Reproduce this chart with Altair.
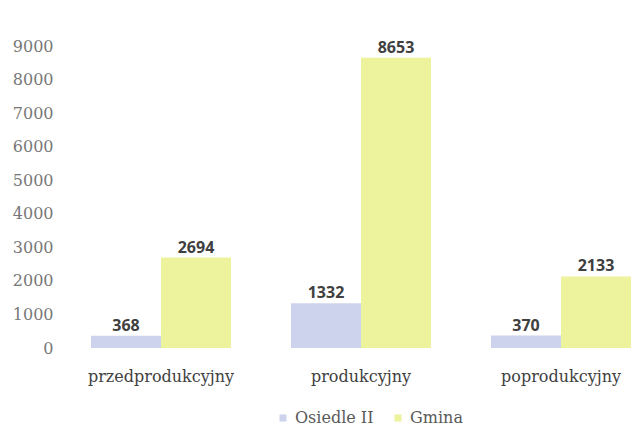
import altair as alt
import pandas as pd

categories = ["przedprodukcyjny", "produkcyjny", "poprodukcyjny"]
series = ["Osiedle II", "Gmina"]
osiedle = [368, 1332, 370]
gmina = [2694, 8653, 2133]
colors = ["#cdd3ec", "#ecf39c"]
y_ticks = [0, 1000, 2000, 3000, 4000, 5000, 6000, 7000, 8000, 9000]

rows = []
for c, o, g in zip(categories, osiedle, gmina):
    rows.append({"kategoria": c, "seria": series[0], "wartosc": o})
    rows.append({"kategoria": c, "seria": series[1], "wartosc": g})
df = pd.DataFrame(rows)

x = alt.X("kategoria:N", sort=categories, title=None,
          scale=alt.Scale(paddingInner=0.3, paddingOuter=0.07, align=1),
          axis=alt.Axis(labelAngle=0, domain=False, ticks=False, grid=False, labelPadding=20,
                        labelFont="DejaVu Serif", labelFontSize=16, labelColor="#404040"))
xo = alt.XOffset("seria:N", sort=series, scale=alt.Scale(paddingInner=0, paddingOuter=0))
y = alt.Y("wartosc:Q", title=None,
          scale=alt.Scale(domain=[0, 9000], nice=False),
          axis=alt.Axis(values=y_ticks, format="d", domain=False, ticks=False, grid=False,
                        labelPadding=10, labelFont="DejaVu Serif", labelFontSize=16,
                        labelColor="#777777"))

bars = alt.Chart(df).mark_bar().encode(
    x=x, xOffset=xo, y=y,
    color=alt.Color("seria:N", sort=series,
                    scale=alt.Scale(domain=series, range=colors),
                    legend=alt.Legend(title=None, orient="none", direction="horizontal",
                                      legendX=212, legendY=364,
                                      symbolType="square", symbolSize=50,
                                      labelFont="DejaVu Serif", labelFontSize=16,
                                      labelColor="#595959", columnPadding=16)),
)

labels = alt.Chart(df).mark_text(dy=-10, fontWeight="bold", font="Open Sans", fontSize=16,
                                 color="#404040").encode(
    x=x, xOffset=xo, y=y, text=alt.Text("wartosc:Q", format="d")
)

chart = (bars + labels).properties(
    width=568, height=302,
    background="white",
    padding={"left": 4, "top": 30, "right": 0, "bottom": 0},
).configure_view(stroke=None)

chart.save("out.html", embed_options={"renderer": "svg", "actions": False})
